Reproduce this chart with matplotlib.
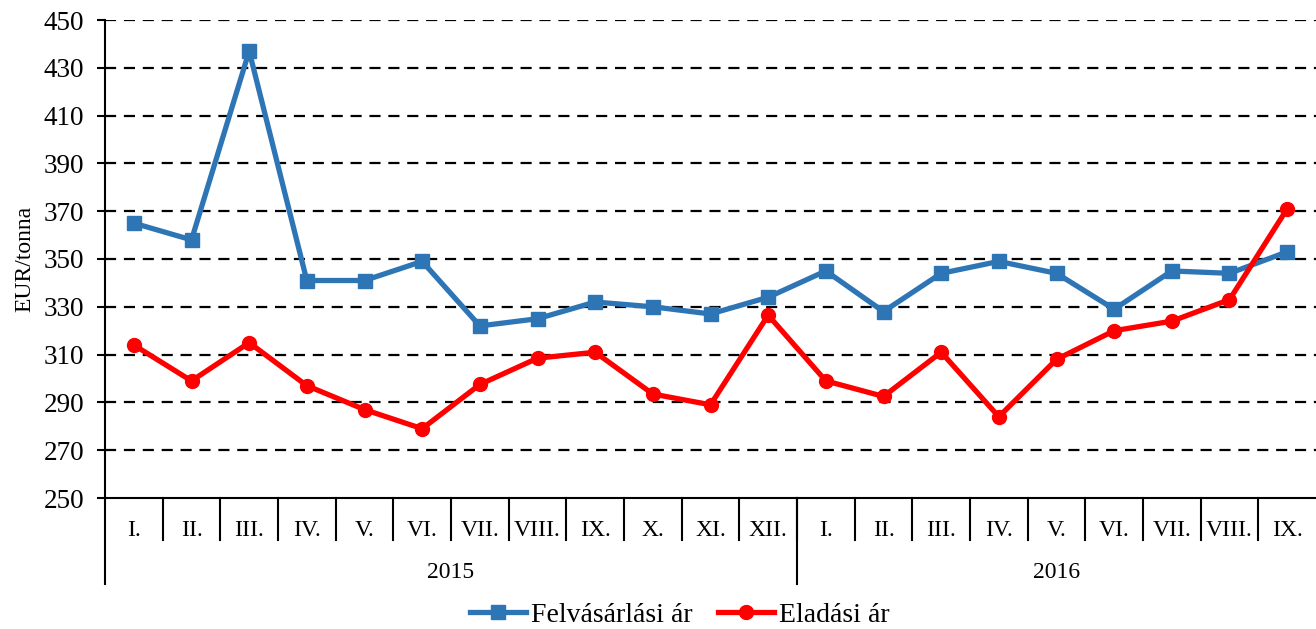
import matplotlib
matplotlib.use("Agg")
import matplotlib.pyplot as plt
import numpy as np

plt.rcParams['font.family'] = ['Liberation Serif', 'DejaVu Serif']

# havi árak, EUR/tonna
honapok = ['I.', 'II.', 'III.', 'IV.', 'V.', 'VI.', 'VII.', 'VIII.', 'IX.', 'X.', 'XI.', 'XII.',
           'I.', 'II.', 'III.', 'IV.', 'V.', 'VI.', 'VII.', 'VIII.', 'IX.']
evek = ['2015', '2016']
ev_honapszam = [12, 9]
felvasarlasi = [365, 358, 437, 341, 341, 349, 322, 325, 332, 330, 327, 334,
                345, 328, 344, 349, 344, 329, 345, 344, 353]
eladasi = [314, 299, 315, 297, 287, 279, 297.5, 308.5, 311, 293.5, 289, 326.5,
           299, 292.5, 311, 284, 308, 320, 324, 333, 371]

fig = plt.figure(figsize=(13.16, 6.29), dpi=100)
ax = fig.add_axes([105 / 1316, 1 - 498 / 629, 1 - 105 / 1316, 478 / 629])

x = np.arange(len(honapok))
ax.plot(x, felvasarlasi, color='#2E75B6', lw=3.8, marker='s', ms=10,
        label='Felvásárlási ár', zorder=3)
ax.plot(x, eladasi, color='#FF0000', lw=3.8, marker='o', ms=10,
        label='Eladási ár', zorder=4)

ax.set_xlim(-0.5, len(honapok) - 0.5)
ax.set_ylim(250, 450)
ax.set_yticks(np.arange(250, 451, 20))
ax.tick_params(axis='y', labelsize=19.5, length=6, width=1.5, direction='out', pad=9)
ax.set_ylabel('EUR/tonna', fontsize=17, labelpad=6)

# szaggatott rácsvonalak
for v in np.arange(270, 451, 20):
    ax.axhline(v, color='black', lw=1.6, ls=(0, (5, 3.5)), zorder=1)

for s in ['top', 'right']:
    ax.spines[s].set_visible(False)
ax.spines['left'].set_linewidth(1.5)
ax.spines['bottom'].set_linewidth(1.5)

# hónap feliratok
ax.set_xticks(x)
ax.set_xticklabels(honapok, fontsize=17)
ax.tick_params(axis='x', length=0, pad=16)

# elválasztók a hónapok és évek között
tr = ax.get_xaxis_transform()
for k in range(1, len(honapok)):
    ax.plot([k - 0.5, k - 0.5], [0, -0.088], transform=tr, color='black', lw=1.5, clip_on=False)
ax.plot([-0.5, -0.5], [0, -0.18], transform=tr, color='black', lw=1.5, clip_on=False)
kezdet = 0
for ev, n in zip(evek, ev_honapszam):
    ax.text(kezdet + (n - 1) / 2, -0.155, ev, transform=tr, ha='center', va='center', fontsize=17)
    kezdet += n
    if kezdet < len(honapok):
        ax.plot([kezdet - 0.5, kezdet - 0.5], [0, -0.18], transform=tr, color='black', lw=1.5, clip_on=False)

fig.legend(loc='center', bbox_to_anchor=(680 / 1316, 1 - 615 / 629), ncol=2, frameon=False,
           fontsize=20, handlelength=2.0, handletextpad=0.2, columnspacing=0.9)

fig.savefig('out.png', dpi=100)
